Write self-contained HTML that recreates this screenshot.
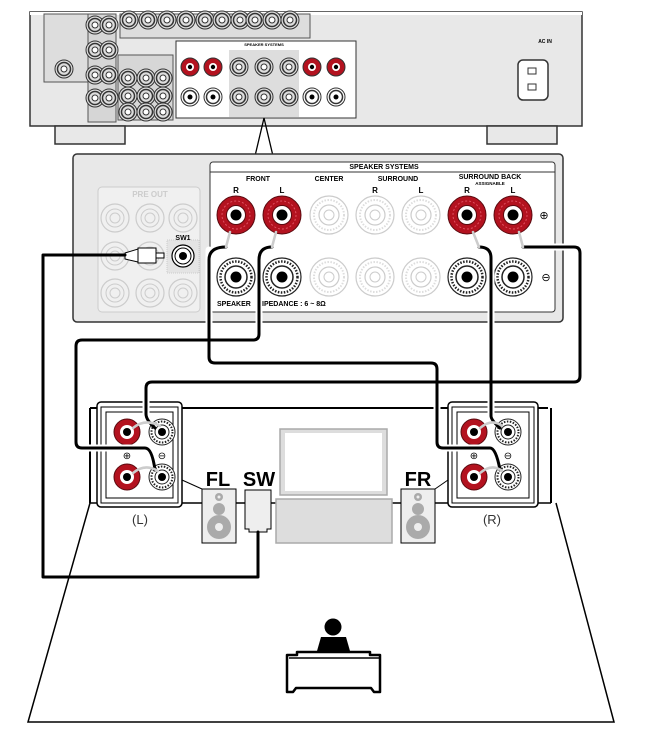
<!DOCTYPE html>
<html><head><meta charset="utf-8"><style>
html,body{margin:0;padding:0;background:#fff;}
svg{display:block;}
text{font-family:"Liberation Sans",sans-serif;}
</style></head><body>
<svg width="658" height="754" viewBox="0 0 658 754" xmlns="http://www.w3.org/2000/svg">
<defs>
<g id="red"><circle r="19" fill="#b3121f" stroke="#5a0a0f" stroke-width="1"/><circle r="14" fill="none" stroke="#e05060" stroke-width="1" stroke-dasharray="2 2"/><circle r="9.5" fill="#fff" stroke="#5a0a0f"/><circle r="5.5" fill="#000"/></g>
<g id="blk"><circle r="19" fill="#fff" stroke="#222" stroke-width="1.2"/><circle r="15.5" fill="none" stroke="#222" stroke-width="2.5" stroke-dasharray="1.5 1.5"/><circle r="11" fill="#fff" stroke="#222" stroke-width="1.5"/><circle r="5.5" fill="#000"/></g>
<g id="gry"><circle r="19" fill="#fff" stroke="#ccc" stroke-width="1.2"/><circle r="15" fill="none" stroke="#ddd" stroke-width="2" stroke-dasharray="1.5 1.5"/><circle r="10" fill="#fff" stroke="#ccc" stroke-width="1.2"/><circle r="5" fill="none" stroke="#ccc"/></g>
<g id="sred"><circle r="13" fill="#b3121f" stroke="#5a0a0f"/><circle r="7" fill="#fff"/><circle r="4" fill="#000"/></g>
<g id="sblk"><circle r="13" fill="#fff" stroke="#222"/><circle r="10.5" fill="none" stroke="#222" stroke-width="2" stroke-dasharray="1.5 1.5"/><circle r="7" fill="#fff" stroke="#222"/><circle r="4" fill="#000"/></g>
<g id="mr"><circle r="9" fill="#b3121f" stroke="#333"/><circle r="4" fill="#fff"/><circle r="2.2" fill="#000"/></g>
<g id="mk"><circle r="9" fill="#fff" stroke="#333"/><circle r="6.5" fill="none" stroke="#333" stroke-width="1.5"/><circle r="2.5" fill="#000"/></g>
<g id="mg"><circle r="9" fill="#ddd" stroke="#333"/><circle r="6.5" fill="none" stroke="#333" stroke-width="1.5"/><circle r="3" fill="#fff" stroke="#333"/></g>
<g id="pj"><circle r="14" fill="none" stroke="#ccc" stroke-width="1.2"/><circle r="9" fill="none" stroke="#ccc"/><circle r="5" fill="none" stroke="#ccc"/></g>
</defs>

<!-- receiver -->
<rect x="30" y="12" width="552" height="114" fill="#e8e8e8" stroke="#333" stroke-width="1.5"/>
<rect x="30" y="12" width="552" height="3" fill="#fff"/>
<rect x="55" y="126" width="70" height="18" fill="#e8e8e8" stroke="#333" stroke-width="1.5"/>
<rect x="487" y="126" width="70" height="18" fill="#e8e8e8" stroke="#333" stroke-width="1.5"/>
<rect x="44" y="14" width="60" height="68" fill="#ddd" stroke="#555"/>
<rect x="88" y="14" width="28" height="108" fill="#d6d6d6" stroke="#555"/>
<rect x="118" y="55" width="55" height="65" fill="#d6d6d6" stroke="#555"/>
<rect x="120" y="14" width="190" height="24" fill="#ddd" stroke="#555"/>
<g>
<use href="#mg" x="95" y="25"/><use href="#mg" x="109" y="25"/><use href="#mg" x="95" y="50"/><use href="#mg" x="109" y="50"/><use href="#mg" x="95" y="75"/><use href="#mg" x="109" y="75"/><use href="#mg" x="95" y="98"/><use href="#mg" x="109" y="98"/>
<use href="#mg" x="129" y="20"/><use href="#mg" x="148" y="20"/><use href="#mg" x="167" y="20"/><use href="#mg" x="186" y="20"/><use href="#mg" x="205" y="20"/><use href="#mg" x="222" y="20"/><use href="#mg" x="240" y="20"/><use href="#mg" x="255" y="20"/><use href="#mg" x="272" y="20"/><use href="#mg" x="290" y="20"/>
<use href="#mg" x="128" y="78"/><use href="#mg" x="146" y="78"/><use href="#mg" x="163" y="78"/><use href="#mg" x="128" y="96"/><use href="#mg" x="146" y="96"/><use href="#mg" x="163" y="96"/><use href="#mg" x="128" y="112"/><use href="#mg" x="146" y="112"/><use href="#mg" x="163" y="112"/>
<use href="#mg" x="64" y="69"/>
</g>
<rect x="176" y="41" width="180" height="77" fill="#fff" stroke="#333"/>
<rect x="229" y="50" width="70" height="67" fill="#ddd"/>
<use href="#mr" x="190" y="67"/><use href="#mr" x="213" y="67"/><use href="#mg" x="239" y="67"/><use href="#mg" x="264" y="67"/><use href="#mg" x="289" y="67"/><use href="#mr" x="312" y="67"/><use href="#mr" x="336" y="67"/>
<use href="#mk" x="190" y="97"/><use href="#mk" x="213" y="97"/><use href="#mg" x="239" y="97"/><use href="#mg" x="264" y="97"/><use href="#mg" x="289" y="97"/><use href="#mk" x="312" y="97"/><use href="#mk" x="336" y="97"/>
<text x="264" y="46" font-size="4" text-anchor="middle" font-weight="bold">SPEAKER SYSTEMS</text>
<text x="545" y="43" font-size="5" text-anchor="middle" font-weight="bold">AC IN</text>
<rect x="518" y="60" width="30" height="40" rx="5" fill="#fff" stroke="#333" stroke-width="1.5"/>
<rect x="528" y="68" width="8" height="6" fill="#fff" stroke="#333"/><rect x="528" y="84" width="8" height="6" fill="#fff" stroke="#333"/>
<polyline points="255,156 264,118 273,156" fill="none" stroke="#000" stroke-width="1.3"/>

<!-- zoom panel -->
<rect x="73" y="154" width="490" height="168" rx="4" fill="#e8e8e8" stroke="#333" stroke-width="1.5"/>
<rect x="210" y="162" width="345" height="150" rx="3" fill="#fff" stroke="#333"/>
<line x1="210" y1="172" x2="555" y2="172" stroke="#333"/>
<text x="384" y="169" font-size="7" font-weight="bold" text-anchor="middle">SPEAKER SYSTEMS</text>
<text x="258" y="181" font-size="7" font-weight="bold" text-anchor="middle">FRONT</text>
<text x="329" y="181" font-size="7" font-weight="bold" text-anchor="middle">CENTER</text>
<text x="398" y="181" font-size="7" font-weight="bold" text-anchor="middle">SURROUND</text>
<text x="490" y="179" font-size="7" font-weight="bold" text-anchor="middle">SURROUND BACK</text>
<text x="490" y="185" font-size="4.5" font-weight="bold" text-anchor="middle">ASSIGNABLE</text>
<g font-size="8" font-weight="bold" text-anchor="middle"><text x="236" y="193">R</text><text x="282" y="193">L</text><text x="375" y="193">R</text><text x="421" y="193">L</text><text x="467" y="193">R</text><text x="513" y="193">L</text></g>
<use href="#red" x="236" y="215"/><use href="#red" x="282" y="215"/><use href="#gry" x="329" y="215"/><use href="#gry" x="375" y="215"/><use href="#gry" x="421" y="215"/><use href="#red" x="467" y="215"/><use href="#red" x="513" y="215"/>
<use href="#blk" x="236" y="277"/><use href="#blk" x="282" y="277"/><use href="#gry" x="329" y="277"/><use href="#gry" x="375" y="277"/><use href="#gry" x="421" y="277"/><use href="#blk" x="467" y="277"/><use href="#blk" x="513" y="277"/>
<text x="544" y="219" font-size="11" text-anchor="middle">⊕</text><text x="546" y="281" font-size="11" text-anchor="middle">⊖</text>
<text x="217" y="306" font-size="7" font-weight="bold">SPEAKER</text><text x="262" y="306" font-size="7" font-weight="bold">IPEDANCE : 6 ~ 8Ω</text>
<!-- pre out -->
<rect x="98" y="187" width="102" height="125" rx="4" fill="#f0f0f0" stroke="#ccc"/>
<text x="150" y="197" font-size="8" font-weight="bold" fill="#ccc" text-anchor="middle">PRE OUT</text>
<use href="#pj" x="115" y="218"/><use href="#pj" x="150" y="218"/><use href="#pj" x="183" y="218"/>
<use href="#pj" x="115" y="256"/><use href="#pj" x="150" y="256"/>
<use href="#pj" x="115" y="293"/><use href="#pj" x="150" y="293"/><use href="#pj" x="183" y="293"/>
<rect x="167" y="240" width="32" height="33" fill="#e4e4e4" stroke="#ccc" stroke-dasharray="1 1"/>
<circle cx="183" cy="256" r="11" fill="#fff" stroke="#000" stroke-width="1.2"/><circle cx="183" cy="256" r="8" fill="none" stroke="#000"/><circle cx="183" cy="256" r="4" fill="#000"/>
<text x="183" y="240" font-size="7" font-weight="bold" text-anchor="middle">SW1</text>
<polygon points="125,253 138,249 138,262 125,259" fill="#fff" stroke="#000"/>
<rect x="138" y="248" width="18" height="15" fill="#fff" stroke="#000"/>
<rect x="156" y="253" width="8" height="5" fill="#fff" stroke="#000"/>

<!-- room -->
<polyline points="90,408 548,408" fill="none" stroke="#000" stroke-width="2"/>
<line x1="90" y1="408" x2="90" y2="503" stroke="#000" stroke-width="2"/>
<line x1="551" y1="408" x2="551" y2="503" stroke="#000" stroke-width="2"/>
<line x1="90" y1="503" x2="551" y2="503" stroke="#000" stroke-width="1.5"/>
<polyline points="90,503 28,722 614,722 556,503" fill="none" stroke="#000" stroke-width="1.5"/>

<!-- TV -->
<rect x="280" y="429" width="107" height="66" fill="#ddd" stroke="#aaa" stroke-width="1.5"/>
<rect x="285" y="433" width="97" height="58" fill="#fff"/>
<rect x="276" y="499" width="116" height="44" fill="#ddd" stroke="#aaa" stroke-width="1.5"/>
<!-- speakers -->
<g fill="#aaa">
<rect x="202" y="489" width="34" height="54" fill="#eee" stroke="#000"/>
<circle cx="219" cy="497" r="4"/><circle cx="219" cy="509" r="6"/><circle cx="219" cy="527" r="12"/>
<rect x="401" y="489" width="34" height="54" fill="#eee" stroke="#000"/>
<circle cx="418" cy="497" r="4"/><circle cx="418" cy="509" r="6"/><circle cx="418" cy="527" r="12"/>
</g>
<circle cx="219" cy="527" r="4" fill="#eee"/><circle cx="418" cy="527" r="4" fill="#eee"/><circle cx="219" cy="497" r="1.5" fill="#eee"/><circle cx="418" cy="497" r="1.5" fill="#eee"/>
<path d="M245,490 h26 v39 h-4 v3 h-18 v-3 h-4 z" fill="#eee" stroke="#000"/>
<g font-size="20" font-weight="bold" text-anchor="middle"><text x="218" y="486">FL</text><text x="259" y="486">SW</text><text x="418" y="486">FR</text></g>
<!-- speaker terminal boxes -->
<rect x="97" y="402" width="85" height="105" rx="4" fill="#fff" stroke="#000" stroke-width="1.5"/>
<rect x="101" y="407" width="77" height="96" fill="none" stroke="#000"/>
<rect x="106" y="412" width="67" height="86" fill="none" stroke="#000"/>
<polyline points="182,480 202,489" stroke="#000" fill="none"/>
<rect x="448" y="402" width="90" height="105" rx="4" fill="#fff" stroke="#000" stroke-width="1.5"/>
<rect x="452" y="407" width="82" height="96" fill="none" stroke="#000"/>
<rect x="457" y="412" width="72" height="86" fill="none" stroke="#000"/>
<polyline points="448,480 435,489" stroke="#000" fill="none"/>
<use href="#sred" x="127" y="432"/><use href="#sred" x="127" y="477"/><use href="#sblk" x="162" y="432"/><use href="#sblk" x="162" y="477"/>
<use href="#sred" x="474" y="432"/><use href="#sred" x="474" y="477"/><use href="#sblk" x="508" y="432"/><use href="#sblk" x="508" y="477"/>
<g font-size="10" text-anchor="middle"><text x="127" y="459">⊕</text><text x="162" y="459">⊖</text><text x="474" y="459">⊕</text><text x="508" y="459">⊖</text></g>
<g font-size="13" text-anchor="middle" fill="#333"><text x="140" y="524">(L)</text><text x="492" y="524">(R)</text></g>

<!-- person -->
<circle cx="333" cy="627" r="8.5" fill="#000"/>
<polygon points="321,637 346,637 352,658 315,658" fill="#000"/>
<path d="M297,652 h73 v3 h10 v37 h-6 l-3,-4 h-75 l-3,4 h-6 v-37 h10 z" fill="#fff" stroke="#000" stroke-width="2.5" stroke-linejoin="round"/>
<line x1="289" y1="658" x2="379" y2="658" stroke="#000" stroke-width="1.5"/>

<!-- wires: white halo then black -->
<g fill="none" stroke-linejoin="round" stroke-linecap="round">
<g stroke="#fff" stroke-width="7">
<polyline points="259,250 259,340 76,340 76,448 140,448"/>
<polyline points="209,250 209,363 437,363 437,448 493,448"/>
<polyline points="534,247 580,247 580,382 146,382 146,420"/>
<polyline points="491,250 491,420"/>
</g>
<g stroke="#000" stroke-width="3">
<polyline points="125,255 43,255 43,577 258,577 258,532"/>
<path d="M226,247 Q209,247 209,260 L209,357 Q209,363 215,363 L431,363 Q437,363 437,369 L437,442 Q437,448 443,448 L490,448 Q496,448 500,470"/>
<path d="M272,247 Q259,247 259,260 L259,334 Q259,340 253,340 L82,340 Q76,340 76,346 L76,442 Q76,448 82,448 L145,448 Q152,448 155,470"/>
<path d="M523,247 L574,247 Q580,247 580,253 L580,376 Q580,382 574,382 L152,382 Q146,382 146,388 L146,414 Q146,420 155,428"/>
<path d="M479,247 Q491,247 491,258 L491,416 Q491,420 500,428"/>
</g>
<g stroke="#ccc" stroke-width="2.5">
<path d="M230,232 L226,247"/><path d="M276,232 L272,247"/><path d="M473,232 L479,247"/><path d="M519,232 L523,247"/>
<path d="M133,428 Q145,418 160,426"/><path d="M133,473 Q145,463 158,471"/><path d="M480,428 Q492,418 502,426"/><path d="M480,473 Q492,463 502,471"/>
</g>
</g>
</svg>
</body></html>
